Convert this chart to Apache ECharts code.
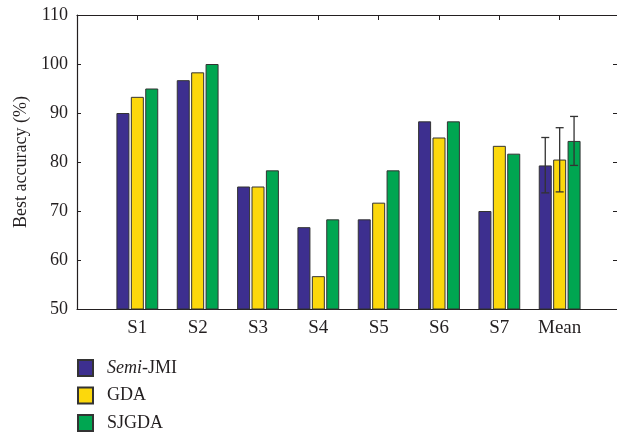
<!DOCTYPE html>
<html>
<head>
<meta charset="utf-8">
<script src="https://cdn.jsdelivr.net/npm/echarts@6/dist/echarts.min.js"></script>
<style>html,body{margin:0;padding:0;background:#fff}#c{width:617px;height:434px}</style>
</head>
<body>
<div id="c"></div>
<script>
const categories = ['S1', 'S2', 'S3', 'S4', 'S5', 'S6', 'S7', 'Mean'];
const seriesNames = ['Semi-JMI', 'GDA', 'SJGDA'];
const semiJMI = [90.0, 96.7, 75.0, 66.7, 68.3, 88.3, 70.0, 79.3];
const gda = [93.3, 98.3, 75.0, 56.7, 71.7, 85.0, 83.3, 80.5];
const sjgda = [95.0, 100.0, 78.3, 68.3, 78.3, 88.3, 81.7, 84.3];
const meanErrLow = [73.7, 73.9, 79.3];
const meanErrHigh = [85.0, 87.0, 89.3];
const yTicks = [50, 60, 70, 80, 90, 100, 110];

const colors = ['#3d2f8f', '#fcd80c', '#00a651'];
const FONT = '"Liberation Serif", "DejaVu Serif", serif';
const INK = '#231f20';
const BAR_W = 13, BAR_GAP = 1.4;

const axisCats = [''].concat(categories, ['']);
const pad = arr => ['-'].concat(arr, ['-']);
const meanIdx = axisCats.indexOf('Mean');
const errData = meanErrLow.map((lo, i) => [meanIdx, lo, meanErrHigh[i], i]);

const chart = echarts.init(document.getElementById('c'), null, {renderer: 'canvas'});
const barSeries = [semiJMI, gda, sjgda].map((vals, i) => ({
  name: seriesNames[i],
  type: 'bar',
  data: pad(vals),
  barWidth: BAR_W,
  barGap: (BAR_GAP / BAR_W * 100).toFixed(1) + '%',
  itemStyle: {color: colors[i], borderColor: '#333', borderWidth: 1},
  z: 2
}));

const legends = seriesNames.map((n, i) => ({
  orient: 'vertical',
  left: 77,
  top: 359 + i * 27.5,
  padding: 0,
  itemWidth: 15,
  itemHeight: 16,
  icon: 'rect',
  data: [n],
  formatter: s => s === 'Semi-JMI' ? '{i|Semi}{n|-JMI}' : '{n|' + s + '}',
  textStyle: {
    fontFamily: FONT, fontSize: 18, color: INK, padding: [0, 0, 0, 9],
    rich: {
      i: {fontFamily: FONT, fontSize: 18, fontStyle: 'italic', color: INK},
      n: {fontFamily: FONT, fontSize: 18, color: INK}
    }
  }
}));

chart.setOption({
  animation: false,
  backgroundColor: '#fff',
  textStyle: {fontFamily: FONT, color: INK},
  grid: {left: 77, top: 15, width: 543, height: 294, containLabel: false, outerBoundsMode: 'none'},
  legend: legends,
  xAxis: [{
    type: 'category',
    data: axisCats,
    boundaryGap: false,
    position: 'bottom',
    axisLine: {lineStyle: {color: INK, width: 1.2}},
    axisTick: {show: false},
    axisLabel: {fontFamily: FONT, fontSize: 19, color: INK, margin: 10, interval: 0}
  }, {
    type: 'category',
    data: axisCats,
    boundaryGap: false,
    position: 'top',
    axisLine: {lineStyle: {color: INK, width: 1.2}},
    axisTick: {show: true, inside: true, length: 5, lineStyle: {color: INK}, interval: (i, v) => v !== ''},
    axisLabel: {show: false}
  }],
  yAxis: [{
    type: 'value',
    min: yTicks[0],
    max: yTicks[yTicks.length - 1],
    interval: 10,
    name: 'Best accuracy (%)',
    nameLocation: 'middle',
    nameGap: 47,
    nameTextStyle: {fontFamily: FONT, fontSize: 18, color: INK},
    axisLine: {show: true, lineStyle: {color: INK, width: 1.2}},
    axisTick: {show: true, inside: true, length: 4, lineStyle: {color: INK}},
    axisLabel: {fontFamily: FONT, fontSize: 18, color: INK, margin: 9},
    splitLine: {show: false}
  }, {
    type: 'value',
    min: yTicks[0],
    max: yTicks[yTicks.length - 1],
    interval: 10,
    position: 'right',
    axisLine: {show: true, lineStyle: {color: INK, width: 1.2}},
    axisTick: {show: true, inside: true, length: 7, lineStyle: {color: INK}},
    axisLabel: {show: false},
    splitLine: {show: false}
  }],
  series: barSeries.concat([{
    type: 'custom',
    name: 'err',
    data: errData,
    z: 5,
    encode: {x: 0, y: [1, 2]},
    renderItem: (params, api) => {
      const k = api.value(3);
      const off = (k - 1) * (BAR_W + BAR_GAP);
      const lo = api.coord([api.value(0), api.value(1)]);
      const hi = api.coord([api.value(0), api.value(2)]);
      const x = lo[0] + off;
      const cw = 4;
      const st = {stroke: '#333', lineWidth: 1.3};
      return {
        type: 'group',
        children: [
          {type: 'line', shape: {x1: x, y1: lo[1], x2: x, y2: hi[1]}, style: st},
          {type: 'line', shape: {x1: x - cw, y1: lo[1], x2: x + cw, y2: lo[1]}, style: st},
          {type: 'line', shape: {x1: x - cw, y1: hi[1], x2: x + cw, y2: hi[1]}, style: st}
        ]
      };
    }
  }])
});
</script>
</body>
</html>
